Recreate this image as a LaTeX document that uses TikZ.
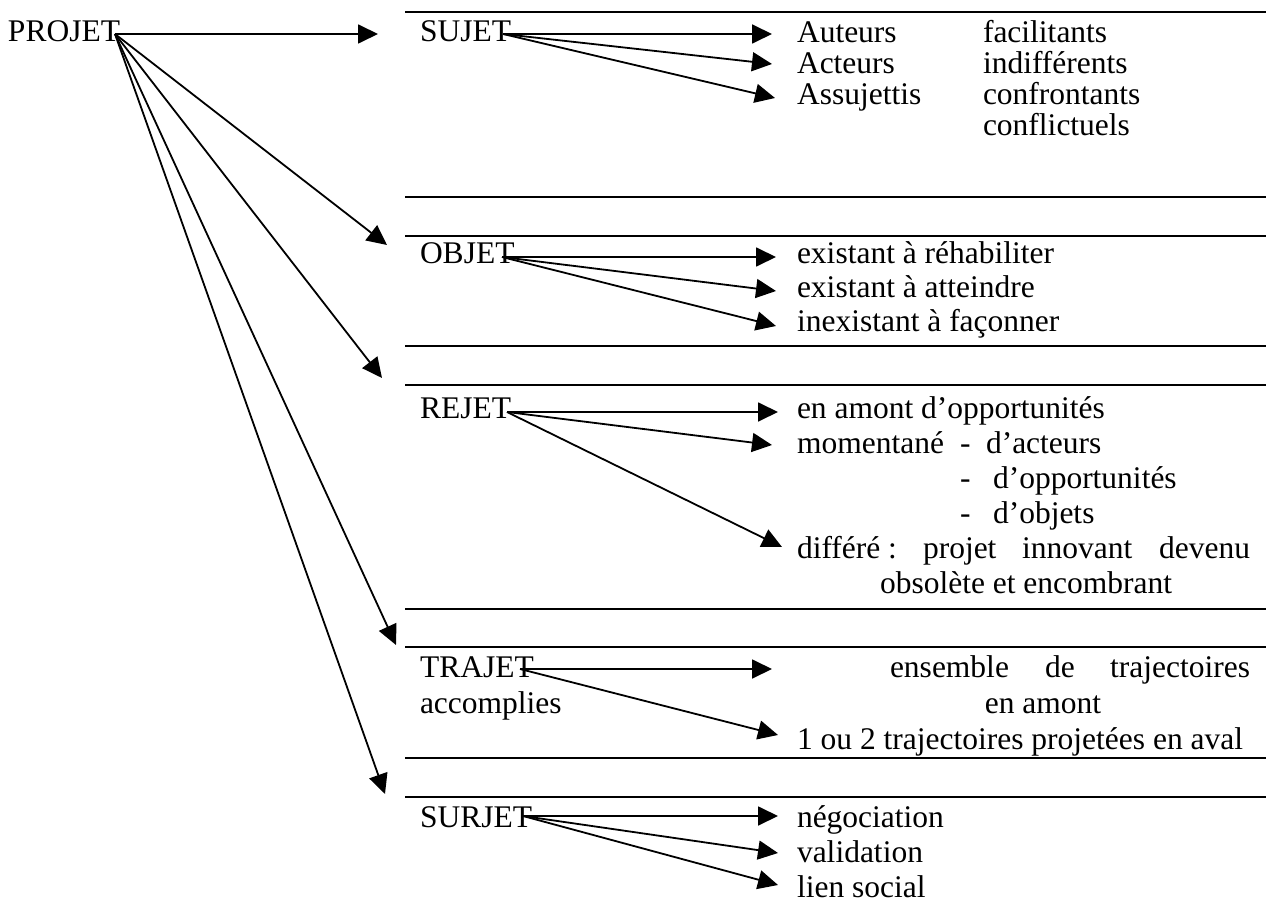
\documentclass[tikz,border=0pt]{standalone}
\usepackage{fontspec}
\setmainfont{Liberation Serif}
\usetikzlibrary{arrows.meta}
\begin{document}
\begin{tikzpicture}[x=1pt,y=-1pt,
  txt/.style={inner sep=0pt, outer sep=0pt, anchor=base west, font=\fontsize{31.5}{35}\selectfont},
  txtr/.style={txt, anchor=base east},
  txtc/.style={txt, anchor=base},
  rulel/.style={line width=2.4pt},
  arr/.style={line width=1.8pt, -{Triangle[length=20pt,width=19pt]}}]
\useasboundingbox (0,0) rectangle (1266,904);

% horizontal rules
\foreach \yy in {12,197,236,346,385,609,647,758,797}
  \draw[rulel] (405,\yy) -- (1266,\yy);

% main label
\node[txt] (projet) at (8,42) {PROJET};
\coordinate (p0) at (115,34);

% section labels
\node[txt] (sujet) at (420,42) {SUJET};
\node[txt] (objet) at (420,263) {OBJET};
\node[txt] (rejet) at (420,418) {REJET};
\node[txt] (trajet) at (420,677) {TRAJET};
\node[txt] (accomplies) at (420,713) {accomplies};
\node[txt] (surjet) at (420,827) {SURJET};

% main arrow tips
\coordinate (tS) at (378,34);
\coordinate (tO) at (387,245);
\coordinate (tR) at (382,378);
\coordinate (tT) at (396,645);
\coordinate (tU) at (385,794);
\foreach \t in {tS,tO,tR,tT,tU}
  \draw[arr] (p0) -- (\t);

% SUJET items
\node[txt] (auteurs) at (797,43) {Auteurs};
\node[txt] (acteurs) at (797,74) {Acteurs};
\node[txt] (assuj) at (797,105) {Assujettis};
\node[txt] (facil) at (983,43) {facilitants};
\node[txt] (indiff) at (983,74) {indifférents};
\node[txt] (confr) at (983,105) {confrontants};
\node[txt] (confl) at (983,136) {conflictuels};
\coordinate (s0) at (503,34);
\coordinate (s1) at (772,34);
\coordinate (s2) at (772,64);
\coordinate (s3) at (775,98);
\foreach \t in {s1,s2,s3} \draw[arr] (s0) -- (\t);

% OBJET items
\node[txt] (o1) at (797,263) {existant à réhabiliter};
\node[txt] (o2) at (797,297) {existant à atteindre};
\node[txt] (o3) at (797,331) {inexistant à façonner};
\coordinate (ob0) at (502,257);
\coordinate (ob1) at (776,257);
\coordinate (ob2) at (776,291);
\coordinate (ob3) at (776,326);
\foreach \t in {ob1,ob2,ob3} \draw[arr] (ob0) -- (\t);

% REJET items
\node[txt] (r1) at (797,418) {en amont d’opportunités};
\node[txt] (r2) at (797,453) {momentané};
\node[txt] (d1) at (960,453) {-};
\node[txt] (r2b) at (986,453) {d’acteurs};
\node[txt] (d2) at (960,488) {-};
\node[txt] (r3) at (993,488) {d’opportunités};
\node[txt] (d3) at (960,523) {-};
\node[txt] (r4) at (993,523) {d’objets};
\node[txt] (r5a) at (797,558) {différé :};
\node[txt] (r5b) at (923,558) {projet};
\node[txt] (r5c) at (1022,558) {innovant};
\node[txtr] (r5d) at (1250,558) {devenu};
\node[txt] (r6) at (880,593) {obsolète et encombrant};
\coordinate (rj0) at (507,412);
\coordinate (rj1) at (778,412);
\coordinate (rj2) at (772,445);
\coordinate (rj3) at (782,547);
\foreach \t in {rj1,rj2,rj3} \draw[arr] (rj0) -- (\t);

% TRAJET items
\node[txt] (t1a) at (890,677) {ensemble};
\node[txt] (t1b) at (1045,677) {de};
\node[txtr] (t1c) at (1250,677) {trajectoires};
\node[txtc] (t2) at (1043,713) {en amont};
\node[txt] (t3) at (797,749) {1 ou 2 trajectoires projetées en aval};
\coordinate (tj0) at (520,669);
\coordinate (tj1) at (772,669);
\coordinate (tj2) at (778,735);
\foreach \t in {tj1,tj2} \draw[arr] (tj0) -- (\t);

% SURJET items
\node[txt] (u1) at (797,827) {négociation};
\node[txt] (u2) at (797,862) {validation};
\node[txt] (u3) at (797,897) {lien social};
\coordinate (su0) at (523,816);
\coordinate (su1) at (778,816);
\coordinate (su2) at (778,853);
\coordinate (su3) at (778,885);
\foreach \t in {su1,su2,su3} \draw[arr] (su0) -- (\t);
\end{tikzpicture}
\end{document}
